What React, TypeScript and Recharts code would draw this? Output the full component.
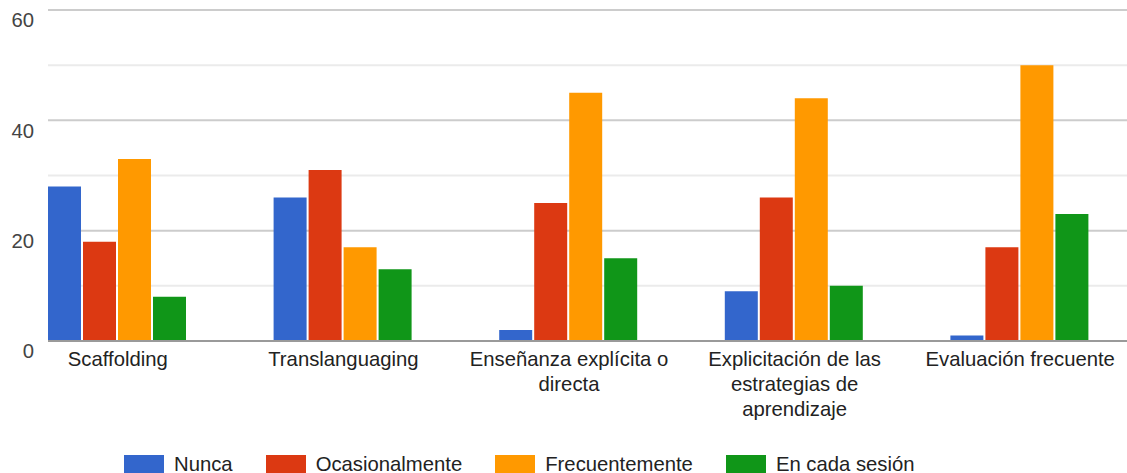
import React from "react"
import {
	BarChart,
	Bar,
	XAxis,
	YAxis,
	CartesianGrid,
	Legend,
} from "recharts"

const categories = [
	"Scaffolding",
	"Translanguaging",
	"Enseñanza explícita o directa",
	"Explicitación de las estrategias de aprendizaje",
	"Evaluación frecuente",
]

const nunca = [28, 26, 2, 9, 1]
const ocasionalmente = [18, 31, 25, 26, 17]
const frecuentemente = [33, 17, 45, 44, 50]
const enCadaSesion = [8, 13, 15, 10, 23]

const yTicks = [0, 10, 20, 30, 40, 50, 60]

const series = [
	{ key: "nunca", name: "Nunca", color: "#3366cc" },
	{ key: "ocasionalmente", name: "Ocasionalmente", color: "#dc3912" },
	{ key: "frecuentemente", name: "Frecuentemente", color: "#ff9900" },
	{ key: "enCadaSesion", name: "En cada sesión", color: "#109618" },
]

const data = categories.map((name, i) => ({
	name,
	nunca: nunca[i],
	ocasionalmente: ocasionalmente[i],
	frecuentemente: frecuentemente[i],
	enCadaSesion: enCadaSesion[i],
}))

const FONT = "'Liberation Sans', Arial, sans-serif"
const FONT_SIZE = 20.3
const LABEL_WIDTH = 215

let ctx: CanvasRenderingContext2D | null = null
const measure = (s: string) => {
	if (!ctx) {
		ctx = document.createElement("canvas").getContext("2d")
		if (ctx) ctx.font = `${FONT_SIZE}px ${FONT}`
	}
	return ctx ? ctx.measureText(s).width : s.length * FONT_SIZE * 0.5
}

// greedy word wrap, same idea as the axis labels in the sheet export
const wrap = (label: string) => {
	const lines: string[] = []
	let cur = ""
	for (const w of label.split(" ")) {
		const next = cur ? `${cur} ${w}` : w
		if (cur && measure(next) > LABEL_WIDTH) {
			lines.push(cur)
			cur = w
		} else {
			cur = next
		}
	}
	if (cur) lines.push(cur)
	return lines
}

const CategoryTick = (props: any) => {
	const { x, y, payload } = props
	const lines = wrap(String(payload.value))
	return (
		<text
			x={x}
			y={y}
			textAnchor="middle"
			fontSize={FONT_SIZE}
			fontFamily={FONT}
			fill="#222"
		>
			{lines.map((l, i) => (
				<tspan key={i} x={x} dy={i === 0 ? "0.71em" : 25}>
					{l}
				</tspan>
			))}
		</text>
	)
}

// only every other gridline gets a label (0, 20, 40, 60)
const ValueTick = (props: any) => {
	const { x, y, payload } = props
	if (payload.value % 20 !== 0) return null
	return (
		<text
			x={x}
			y={y + 10}
			dy="0.355em"
			textAnchor="end"
			fontSize={FONT_SIZE}
			fontFamily={FONT}
			fill="#444"
		>
			{payload.value}
		</text>
	)
}

// major lines darker than the minor ones in between
const GridLine = (props: any) => {
	const { x1, y1, x2, y2, index } = props
	return (
		<line
			key={`grid-${index}`}
			x1={x1}
			y1={y1}
			x2={x2}
			y2={y2}
			stroke={index % 2 === 0 ? "#cccccc" : "#ebebeb"}
			strokeWidth={2}
		/>
	)
}

const LegendContent = () => (
	<div
		style={{
			display: "flex",
			alignItems: "center",
			fontFamily: FONT,
			fontSize: FONT_SIZE,
			color: "#222",
			whiteSpace: "nowrap",
		}}
	>
		{series.map((s) => (
			<div
				key={s.key}
				style={{ display: "flex", alignItems: "center", marginRight: 33 }}
			>
				<span
					style={{
						display: "inline-block",
						width: 40,
						height: 19,
						background: s.color,
						marginRight: 10,
					}}
				/>
				<span>{s.name}</span>
			</div>
		))}
	</div>
)

export default function App() {
	return (
		<div
			style={{
				position: "absolute",
				left: 0,
				top: 0,
				width: 1127,
				height: 473,
				background: "#fff",
			}}
		>
			<BarChart
				width={1127}
				height={473}
				data={data}
				margin={{ top: 10, right: 0, bottom: 22, left: 0 }}
				barGap={2}
				barCategoryGap={43}
			>
				<CartesianGrid vertical={false} horizontal={GridLine} />
				<XAxis
					dataKey="name"
					height={110}
					padding={{ left: -43, right: -6 }}
					tick={<CategoryTick />}
					tickLine={false}
					tickSize={0}
					tickMargin={11}
					axisLine={{ stroke: "#9a9a9a", strokeWidth: 2 }}
					interval={0}
				/>
				<YAxis
					width={48}
					domain={[0, 60]}
					ticks={yTicks}
					tick={<ValueTick />}
					tickLine={false}
					tickSize={0}
					tickMargin={14}
					axisLine={false}
					interval={0}
				/>
				<Legend
					layout="horizontal"
					align="center"
					verticalAlign="middle"
					content={<LegendContent />}
					wrapperStyle={{ left: 124, top: 453, width: "auto", height: 20 }}
				/>
				{series.map((s) => (
					<Bar
						key={s.key}
						dataKey={s.key}
						name={s.name}
						fill={s.color}
						isAnimationActive={false}
					/>
				))}
			</BarChart>
		</div>
	)
}
